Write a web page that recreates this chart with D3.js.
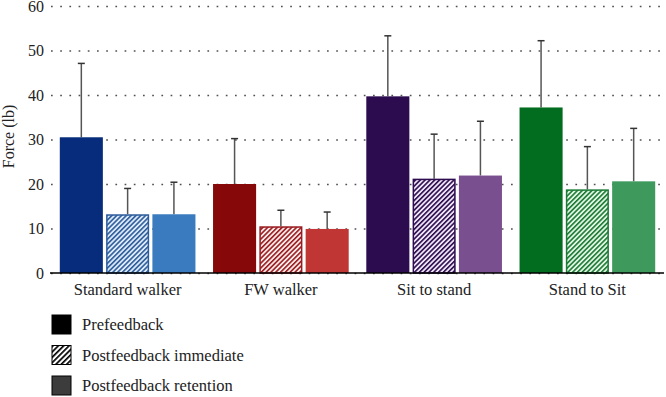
<!DOCTYPE html>
<html lang="en">
<head>
    <meta charset="UTF-8">
    <title>Force by task</title>
    <style>
        body { margin: 0; background: #fff; }
        .tick line { stroke: #505050; stroke-width: 1.6; stroke-dasharray: 1.7 7.5; }
        .domain { display: none; }
    </style>
</head>
<body>

    <svg width="666" height="397"></svg>

    <script src="https://d3js.org/d3.v7.min.js"></script>

    <script>

        // Data
        const categories = ['Standard walker', 'FW walker', 'Sit to stand', 'Stand to Sit'];
        const seriesNames = ['Prefeedback', 'Postfeedback immediate', 'Postfeedback retention'];

        const prefeedback = [30.5, 20.0, 39.7, 37.2];
        const prefeedbackErr = [16.6, 10.2, 13.6, 15.0];

        const immediate = [13.2, 10.5, 21.2, 18.8];
        const immediateErr = [5.8, 3.6, 10.0, 9.6];

        const retention = [13.2, 9.9, 21.9, 20.6];
        const retentionErr = [7.2, 3.8, 12.2, 11.9];

        const yTickValues = [0, 10, 20, 30, 40, 50, 60];

        // one colour set per category: solid, hatch line, hatch background, retention
        const solidColors = ['#062c7b', '#860809', '#2c0b4f', '#026d1f'];
        const hatchColors = ['#2d5c9c', '#9a1b20', '#2c0b4f', '#1a7a35'];
        const hatchBack = ['#ddeaf8', '#fbecea', '#efe6f5', '#e2f4e2'];
        const retentionColors = ['#3a7bbf', '#c03634', '#7a4f8f', '#3e9a5c'];

        const serif = '"Liberation Serif", "DejaVu Serif", serif';

        const margin = { left: 51, right: 2, top: 6, bottom: 124 };

        const svg = d3.select('svg');
        const width = +svg.attr('width');
        const height = +svg.attr('height');
        const innerWidth = width - margin.left - margin.right;
        const innerHeight = height - margin.top - margin.bottom;

        const series = [
            { name: seriesNames[0], values: prefeedback, errs: prefeedbackErr },
            { name: seriesNames[1], values: immediate, errs: immediateErr },
            { name: seriesNames[2], values: retention, errs: retentionErr }
        ];

        // hatch patterns
        const defs = svg.append('defs');

        function addHatch(id, line, back, step, lw) {
            const p = defs.append('pattern')
                .attr('id', id)
                .attr('patternUnits', 'userSpaceOnUse')
                .attr('width', step)
                .attr('height', step)
                .attr('patternTransform', 'rotate(45)');
            p.append('rect').attr('width', step).attr('height', step).attr('fill', back);
            p.append('line')
                .attr('x1', lw / 2).attr('y1', 0).attr('x2', lw / 2).attr('y2', step)
                .attr('stroke', line).attr('stroke-width', lw);
        }

        categories.forEach(function (c, i) {
            addHatch('hatch' + i, hatchColors[i], hatchBack[i], 3.4, 1.6);
        });
        addHatch('hatchLegend', '#000', '#fff', 3.8, 1.7);

        const x0 = d3.scaleBand()
            .domain(categories)
            .range([0, innerWidth]);

        const x1 = d3.scaleBand()
            .domain(seriesNames)
            .range([0, x0.bandwidth()])
            .paddingInner(0.07)
            .paddingOuter(0.19);

        const yScale = d3.scaleLinear()
            .domain([0, 60])
            .range([innerHeight, 0]);

        const group = svg.append('g')
            .attr('transform', 'translate(' + margin.left + ' ' + margin.top + ')');

        // y axis with dotted grid lines
        const yAxis = d3.axisLeft(yScale)
            .tickValues(yTickValues)
            .tickSize(-innerWidth)
            .tickPadding(7);

        const yAxisG = group.append('g').call(yAxis)
            .attr('font-family', serif)
            .attr('font-size', 16);
        yAxisG.selectAll('.tick text').attr('x', -7).attr('fill', '#222');

        group.append('text')
            .text('Force (lb)')
            .attr('transform', 'rotate(-90)')
            .attr('x', -innerHeight / 2 + 3)
            .attr('y', -37)
            .attr('text-anchor', 'middle')
            .attr('font-family', serif)
            .attr('font-size', 16)
            .attr('fill', '#222');

        // bars
        const catG = group.selectAll('.cat')
            .data(categories)
            .enter()
            .append('g')
            .attr('transform', function (d) {
                return 'translate(' + x0(d) + ' 0)';
            });

        function barFill(s, i) {
            if (s === 0) return solidColors[i];
            if (s === 1) return 'url(#hatch' + i + ')';
            return retentionColors[i];
        }

        catG.each(function (cat, i) {
            const g = d3.select(this);
            series.forEach(function (s, si) {
                const xb = x1(s.name);
                const v = s.values[i];
                const top = v + s.errs[i];
                const cx = xb + x1.bandwidth() / 2;

                // error bar (upper only)
                g.append('line')
                    .attr('x1', cx).attr('x2', cx)
                    .attr('y1', yScale(v)).attr('y2', yScale(top))
                    .attr('stroke', '#555').attr('stroke-width', 1.5);
                g.append('line')
                    .attr('x1', cx - 3.5).attr('x2', cx + 3.5)
                    .attr('y1', yScale(top)).attr('y2', yScale(top))
                    .attr('stroke', '#333').attr('stroke-width', 1.5);

                const r = g.append('rect')
                    .attr('x', xb)
                    .attr('y', yScale(v))
                    .attr('width', x1.bandwidth())
                    .attr('height', innerHeight - yScale(v))
                    .attr('fill', barFill(si, i));
                if (si === 1) {
                    r.attr('x', xb + 0.75)
                        .attr('y', yScale(v) + 0.75)
                        .attr('width', x1.bandwidth() - 1.5)
                        .attr('height', innerHeight - yScale(v) - 0.75)
                        .attr('stroke', hatchColors[i])
                        .attr('stroke-width', 1.5);
                }
            });
        });

        // x axis baseline and labels
        group.append('line')
            .attr('x1', -1).attr('x2', innerWidth)
            .attr('y1', innerHeight).attr('y2', innerHeight)
            .attr('stroke', '#000').attr('stroke-width', 1.6);

        group.selectAll('.xlabel')
            .data(categories)
            .enter()
            .append('text')
            .attr('x', function (d) { return x0(d) + x0.bandwidth() / 2; })
            .attr('y', innerHeight + 22)
            .attr('text-anchor', 'middle')
            .attr('font-family', serif)
            .attr('font-size', 16.5)
            .attr('fill', '#222')
            .text(function (d) { return d; });

        // legend
        const legendFills = ['#000', 'url(#hatchLegend)', '#3c3c3c'];
        const legend = svg.append('g')
            .attr('transform', 'translate(52 315)');

        const item = legend.selectAll('.item')
            .data(seriesNames)
            .enter()
            .append('g')
            .attr('transform', function (d, i) {
                return 'translate(0 ' + (i * 30.5) + ')';
            });

        item.append('rect')
            .attr('width', 19)
            .attr('height', 19)
            .attr('fill', function (d, i) { return legendFills[i]; })
            .attr('stroke', '#000')
            .attr('stroke-width', 1);

        item.append('text')
            .attr('x', 30)
            .attr('y', 15)
            .attr('font-family', serif)
            .attr('font-size', 16.5)
            .attr('fill', '#222')
            .text(function (d) { return d; });

    </script>

</body>
</html>
